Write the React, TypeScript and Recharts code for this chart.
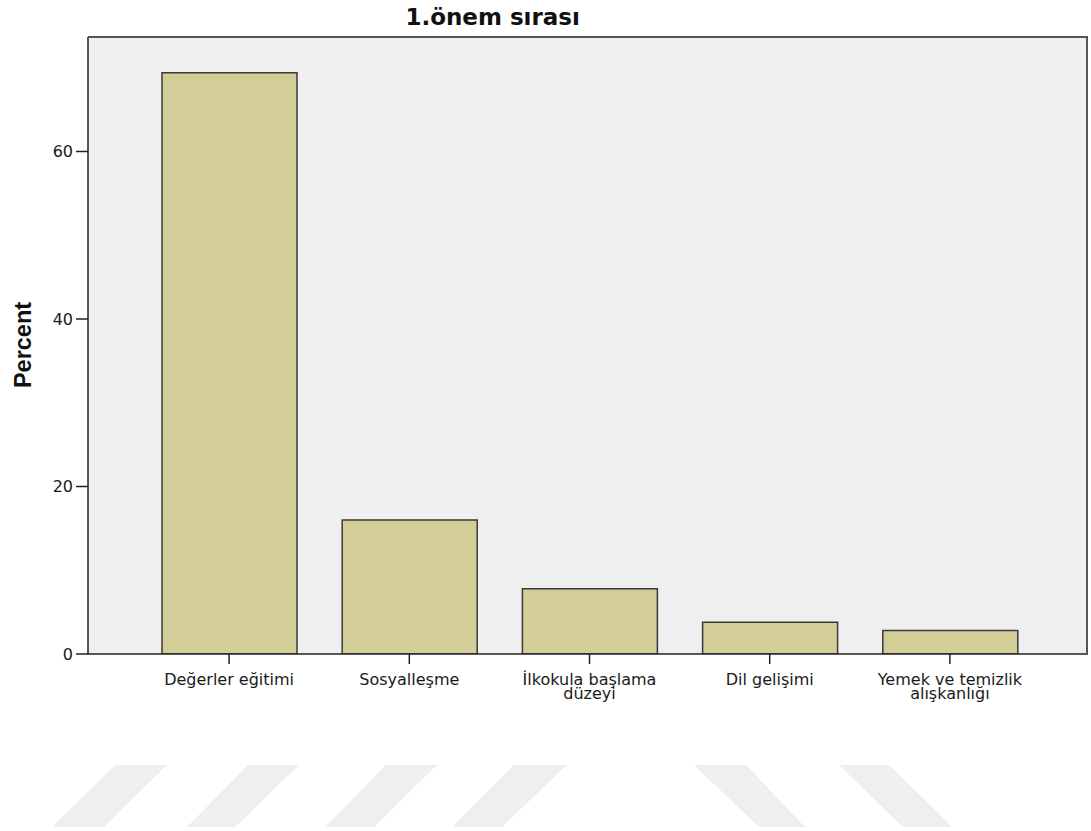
import { Bar, BarChart, CartesianGrid, XAxis, YAxis } from 'recharts';

const categories = ['Değerler eğitimi', 'Sosyalleşme', 'İlkokula başlama\ndüzeyi', 'Dil gelişimi', 'Yemek ve temizlik\nalışkanlığı'];
const percents = [69.4, 16.0, 7.8, 3.8, 2.8];
const yTicks = [0, 20, 40, 60];
const yMax = 73.67;

const data = categories.map((name, i) => ({ name, percent: percents[i] }));

const FONT = "'DejaVu Sans', sans-serif";

// plot box, used for the frame around the plot area
const plot = { left: 88, top: 37, right: 1088, bottom: 654 };

// faint background watermark bands (page decoration, not data)
const watermark = [
  '115,765 167,765 104,827 52,827',
  '248,765 299,765 235,827 187,827',
  '386,765 437,765 374,827 325,827',
  '514,765 567,765 502,827 452,827',
  '694,765 746,765 805,827 759,827',
  '839,765 889,765 952,827 903,827',
];

function CategoryTick({ x, y, payload }: any) {
  const lines = String(payload.value).split('\n');
  return (
    <text x={x} y={y} textAnchor="middle" fill="#1a1a1a" fontSize={16} fontFamily={FONT}>
      {lines.map((line, i) => (
        <tspan key={i} x={x} dy={i === 0 ? 20.5 : 14}>{line}</tspan>
      ))}
    </text>
  );
}

export default function App() {
  return (
    <div style={{ position: 'absolute', left: 0, top: 0, width: 1091, height: 831, background: '#fff' }}>
      <svg width={1091} height={831} style={{ position: 'absolute', left: 0, top: 0 }}>
        {watermark.map((p, i) => <polygon key={i} points={p} fill="#efefef" />)}
      </svg>
      <div style={{ position: 'absolute', left: 0, top: 0 }}>
        <BarChart width={1091} height={831} data={data} margin={{ top: plot.top, right: 1091 - plot.right, bottom: 117, left: 0 }}>
          <CartesianGrid horizontal={false} vertical={false} fill="#efefef" />
          <XAxis dataKey="name" height={60} padding={{ left: 51, right: 48 }} tickSize={10} tickMargin={0}
            tickLine={{ stroke: '#222', strokeWidth: 1.5 }} axisLine={{ stroke: '#222', strokeWidth: 1.5 }}
            tick={<CategoryTick />} interval={0} />
          <YAxis domain={[0, yMax]} ticks={yTicks} width={plot.left} tickSize={12} tickMargin={3}
            allowDataOverflow
            tick={{ fill: '#1a1a1a', fontSize: 16, fontFamily: FONT }}
            tickLine={{ stroke: '#222', strokeWidth: 1.5 }} axisLine={{ stroke: '#222', strokeWidth: 1.5 }} />
          <Bar dataKey="percent" barSize={135} fill="#d3cd97" stroke="#3a3a3a" strokeWidth={1.5} isAnimationActive={false} />
        </BarChart>
      </div>
      <div style={{
        position: 'absolute', left: plot.left, top: plot.top - 1, width: plot.right - plot.left, height: plot.bottom - plot.top,
        borderTop: '2px solid #555', borderRight: '2px solid #555', boxSizing: 'border-box', pointerEvents: 'none',
      }} />
      <div style={{ position: 'absolute', left: 392.7, top: 5.5, width: 200, textAlign: 'center', fontFamily: FONT, fontWeight: 'bold', fontSize: 23, lineHeight: '23px', color: '#111', whiteSpace: 'nowrap' }}>
        1.önem sırası
      </div>
      <div style={{ position: 'absolute', left: 22.5 - 60, top: 345 - 12, width: 120, height: 24, lineHeight: '24px', textAlign: 'center', transform: 'rotate(-90deg)', fontFamily: "'Liberation Sans', Arial, sans-serif", fontWeight: 'bold', fontSize: 23.5, color: '#111' }}>
        Percent
      </div>
    </div>
  );
}
